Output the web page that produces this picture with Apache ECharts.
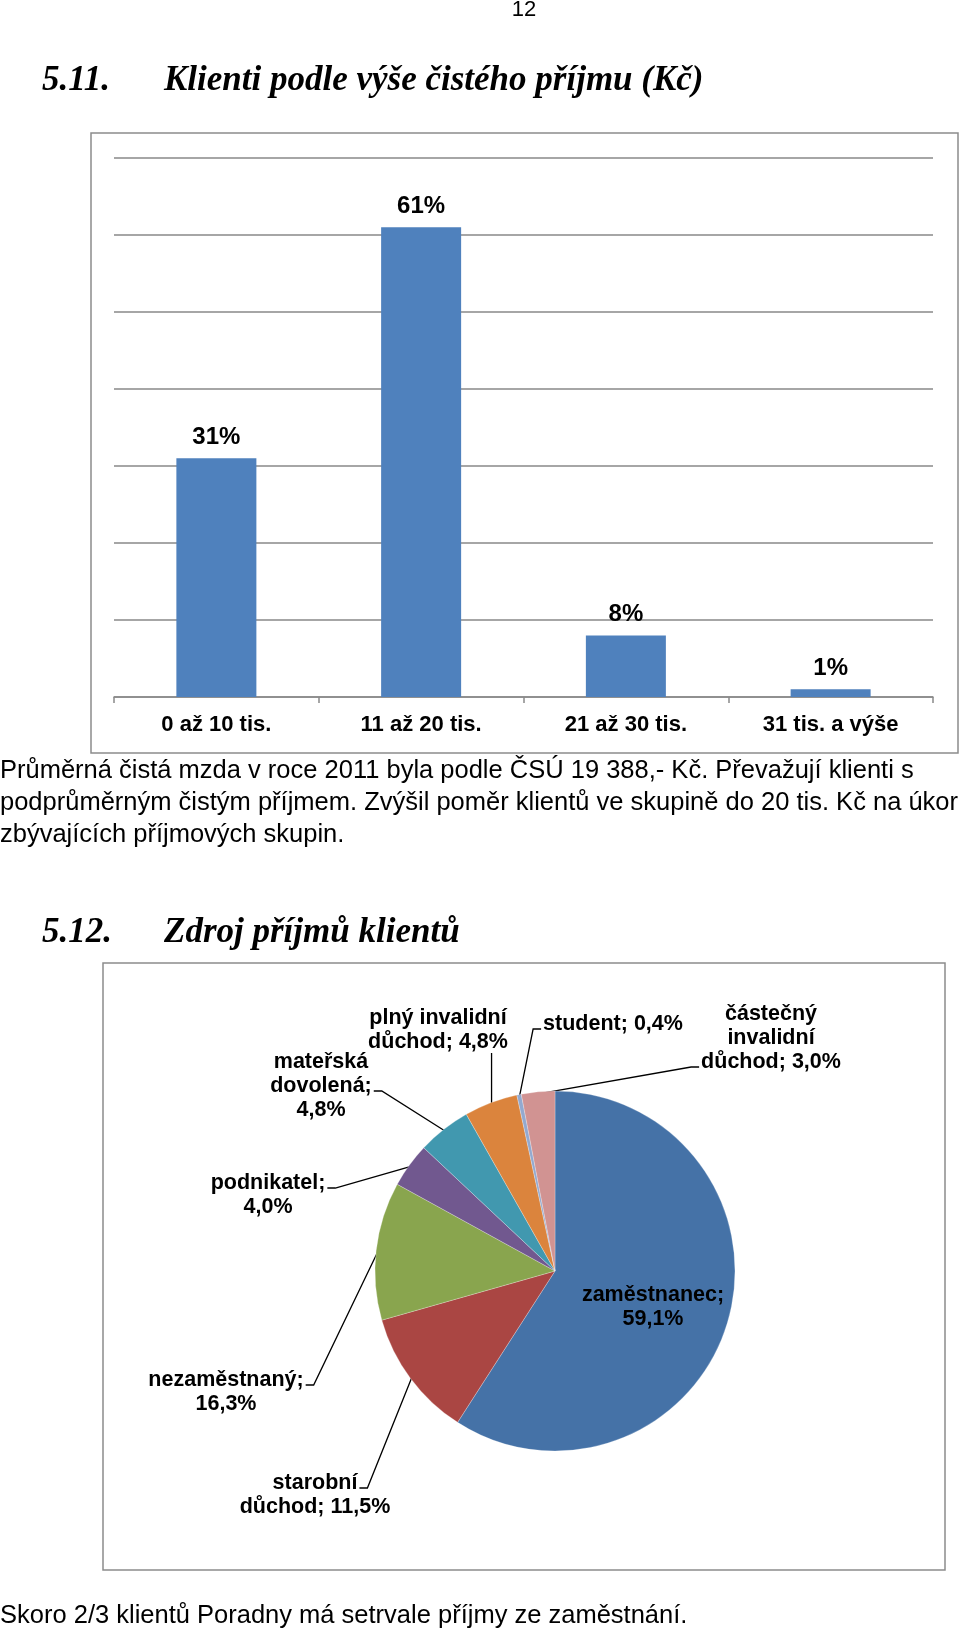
<!DOCTYPE html>
<html>
<head>
<meta charset="utf-8">
<script src="https://cdn.jsdelivr.net/npm/echarts@6/dist/echarts.min.js"></script>
<style>
  html, body { margin: 0; padding: 0; background: #fff; }
  #chart { width: 960px; height: 1631px; }
</style>
</head>
<body>
<div id="chart"></div>
<script>
// ---- Data: bar chart 5.11 ----
const barCategories = ['0 až 10 tis.', '11 až 20 tis.', '21 až 30 tis.', '31 tis. a výše'];
const barValues = [31, 61, 8, 1];
const barAxisTicks = [0, 10, 20, 30, 40, 50, 60, 70];

// ---- Data: pie chart 5.12 ----
const pieCategories = ['zaměstnanec', 'starobní důchod', 'nezaměstnaný', 'podnikatel',
  'mateřská dovolená', 'plný invalidní důchod', 'student', 'částečný invalidní důchod'];
// slice sizes as drawn in the picture (percent of circle)
const pieShares = [59.1, 11.5, 12.4, 4.0, 4.8, 4.8, 0.4, 3.0];
// label texts as printed in the picture
const pieLabelTexts = ['zaměstnanec;\n59,1%', 'starobní\ndůchod; 11,5%', 'nezaměstnaný;\n16,3%',
  'podnikatel;\n4,0%', 'mateřská\ndovolená;\n4,8%', 'plný invalidní\ndůchod; 4,8%',
  'student; 0,4%', 'částečný\ninvalidní\ndůchod; 3,0%'];
const pieColors = ['#4572A7', '#AA4643', '#89A54E', '#71588F', '#4198AF', '#DB843D', '#93A9CF', '#D19392'];

// ---- Page texts ----
const pageNumber = '12';
const heading1 = ['5.11.', 'Klienti podle výše čistého příjmu (Kč)'];
const heading2 = ['5.12.', 'Zdroj příjmů klientů'];
const paragraphLines = [
  'Průměrná čistá mzda v roce 2011 byla podle ČSÚ 19 388,- Kč. Převažují klienti s',
  'podprůměrným čistým příjmem. Zvýšil poměr klientů ve skupině do 20 tis. Kč na úkor',
  'zbývajících příjmových skupin.'
];
const footerText = 'Skoro 2/3 klientů Poradny má setrvale příjmy ze zaměstnání.';

// label block layout (pixel centers of the pie label blocks)
const pieLabelPos = [[653, 1307], [315, 1495], [226, 1392], [268, 1195],
  [321, 1086], [438, 1030], [613, 1024], [771, 1038]];

const SANS = '"Liberation Sans", Arial, sans-serif';
const SERIF = '"Liberation Serif", "Times New Roman", serif';
const gridGray = '#898989';
const PIE_FONT_SIZE = 21.5;
const PIE_LINE_H = 24;

const chart = echarts.init(document.getElementById('chart'), null, { renderer: 'canvas' });

const paraFont = '25.5px ' + SANS;
const headFont = 'italic bold 35px ' + SERIF;

const graphics = [
  { type: 'rect', silent: true, z: -10, shape: { x: 91, y: 133, width: 867, height: 620 },
    style: { fill: 'none', stroke: '#8c8c8c', lineWidth: 1.5 } },
  { type: 'rect', silent: true, z: -10, shape: { x: 103, y: 963, width: 842, height: 607 },
    style: { fill: 'none', stroke: '#8c8c8c', lineWidth: 1.5 } },
  { type: 'text', silent: true, style: { text: pageNumber, x: 524, y: 10, font: '22px ' + SANS, fill: '#000', align: 'center', verticalAlign: 'middle' } },
  { type: 'text', silent: true, style: { text: heading1[0], x: 42, y: 81, font: headFont, fill: '#000', align: 'left', verticalAlign: 'middle' } },
  { type: 'text', silent: true, style: { text: heading1[1], x: 164, y: 81, font: headFont, fill: '#000', align: 'left', verticalAlign: 'middle' } },
  { type: 'text', silent: true, style: { text: heading2[0], x: 42, y: 933, font: headFont, fill: '#000', align: 'left', verticalAlign: 'middle' } },
  { type: 'text', silent: true, style: { text: heading2[1], x: 164, y: 933, font: headFont, fill: '#000', align: 'left', verticalAlign: 'middle' } },
  { type: 'text', silent: true, style: { text: footerText, x: 0, y: 1616, font: paraFont, fill: '#000', align: 'left', verticalAlign: 'middle' } }
];
paragraphLines.forEach(function (t, i) {
  graphics.push({ type: 'text', silent: true, style: { text: t, x: 0, y: 771 + i * 32, font: paraFont, fill: '#000', align: 'left', verticalAlign: 'middle' } });
});

const measureCtx = document.createElement('canvas').getContext('2d');
measureCtx.font = 'bold ' + PIE_FONT_SIZE + 'px ' + SANS;

// leader line: from the slice's mid-angle point on the rim (from the library's pie layout)
// to the end of the label text line nearest to it, with a short horizontal stub.
function leaderPoints(dataIndex, center) {
  let layout = null;
  try {
    layout = chart.getModel().getSeriesByIndex(1).getData().getItemLayout(dataIndex);
  } catch (e) { layout = null; }
  if (!layout || layout.startAngle == null) return null;
  const mid = (layout.startAngle + layout.endAngle) / 2;
  const rr = layout.r - 2;
  const ax = layout.cx + rr * Math.cos(mid);
  const ay = layout.cy + rr * Math.sin(mid);

  const lines = pieLabelTexts[dataIndex].split('\n');
  const n = lines.length;
  const top = center[1] - n * PIE_LINE_H / 2;
  const bottom = top + n * PIE_LINE_H;
  const widths = lines.map(function (l) { return measureCtx.measureText(l).width; });
  const maxW = Math.max.apply(null, widths);
  const left = center[0] - maxW / 2, right = center[0] + maxW / 2;
  const stub = 8;

  if (ax > right || ax < left) {
    const sideRight = ax > right;
    let best = null;
    for (let i = 0; i < n; i++) {
      const ex = sideRight ? center[0] + widths[i] / 2 + 2 : center[0] - widths[i] / 2 - 2;
      const ey = top + PIE_LINE_H * (i + 0.5) + 5;
      const d = Math.hypot(ax - ex, ay - ey);
      if (!best || d < best.d) best = { d: d, x: ex, y: ey };
    }
    const sx = best.x + (sideRight ? stub : -stub);
    return [[ax, ay], [sx, best.y], [best.x, best.y]];
  }
  const x = Math.max(left + 4, Math.min(right - 4, ax));
  return [[ax, ay], [x, bottom + 1], [x, bottom - 1]];
}

const option = {
  animation: false,
  backgroundColor: '#ffffff',
  grid: { left: 114, right: 27, top: 158, height: 539, containLabel: false },
  xAxis: {
    type: 'category',
    data: barCategories,
    axisLine: { lineStyle: { color: gridGray, width: 1.5 } },
    axisTick: { show: true, length: 6, lineStyle: { color: gridGray, width: 1.5 } },
    axisLabel: { color: '#000', fontSize: 22, fontWeight: 'bold', fontFamily: SANS, margin: 17 },
    splitLine: { show: false }
  },
  yAxis: {
    type: 'value',
    min: barAxisTicks[0],
    max: barAxisTicks[barAxisTicks.length - 1],
    interval: barAxisTicks[1] - barAxisTicks[0],
    axisLabel: { show: false },
    axisLine: { show: false },
    axisTick: { show: false },
    splitLine: { lineStyle: { color: gridGray, width: 1.5 } }
  },
  series: [
    {
      type: 'bar',
      data: barValues,
      barWidth: 80,
      itemStyle: { color: '#4F81BD' },
      label: { show: true, position: 'top', distance: 9, formatter: '{c}%',
        color: '#000', fontSize: 24, fontWeight: 'bold', fontFamily: SANS }
    },
    {
      type: 'pie',
      center: [555, 1271],
      radius: 180,
      startAngle: 90,
      clockwise: true,
      avoidLabelOverlap: false,
      data: pieCategories.map(function (name, i) {
        const item = { name: name, value: pieShares[i], itemStyle: { color: pieColors[i] } };
        if (i === 0) item.labelLine = { show: false };
        return item;
      }),
      itemStyle: { borderColor: 'rgba(255,255,255,0.5)', borderWidth: 0.5 },
      label: {
        show: true,
        position: 'outside',
        formatter: function (p) { return pieLabelTexts[p.dataIndex]; },
        color: '#000', fontSize: PIE_FONT_SIZE, fontWeight: 'bold', fontFamily: SANS,
        lineHeight: PIE_LINE_H, align: 'center'
      },
      labelLine: { show: true, length: 10, length2: 8, smooth: false,
        lineStyle: { color: '#000', width: 1.3 } },
      labelLayout: function (params) {
        const p = pieLabelPos[params.dataIndex];
        const out = { x: p[0], y: p[1], align: 'center', verticalAlign: 'middle' };
        if (params.dataIndex !== 0) {
          const pts = leaderPoints(params.dataIndex, p);
          if (pts) out.labelLinePoints = pts;
        }
        return out;
      },
      emphasis: { disabled: true }
    }
  ],
  graphic: graphics
};

chart.setOption(option);
</script>
</body>
</html>
